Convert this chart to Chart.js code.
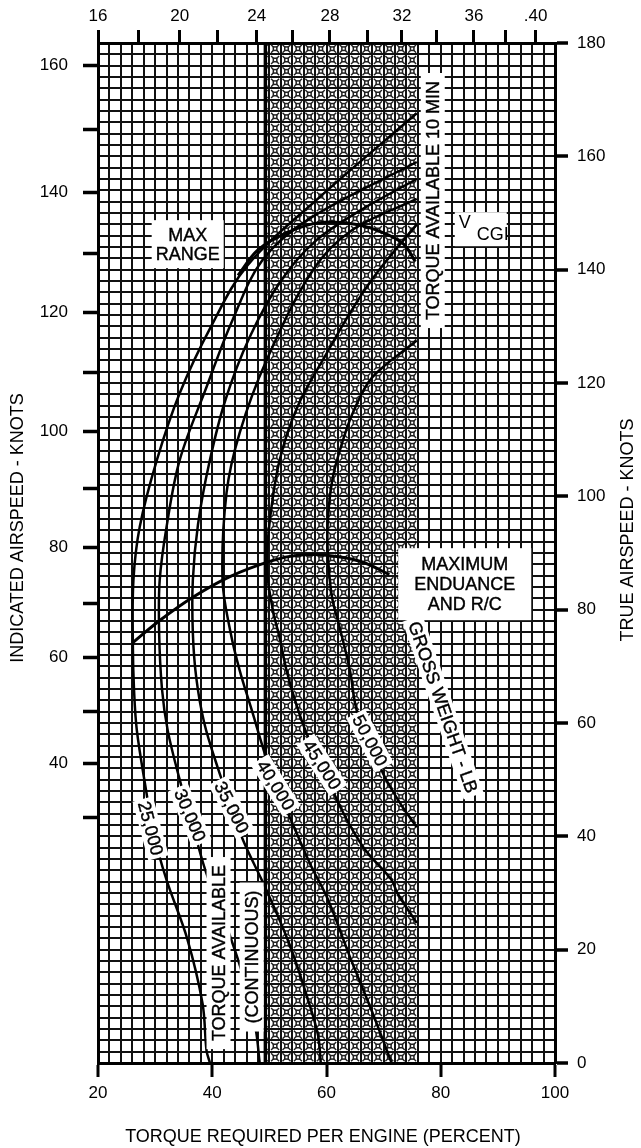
<!DOCTYPE html>
<html>
<head>
<meta charset="utf-8">
<script src="https://cdn.jsdelivr.net/npm/chart.js@4.4.1/dist/chart.umd.min.js"></script>
<style>
  html, body { margin: 0; padding: 0; background: #fff; }
  #wrap { width: 641px; height: 1148px; position: relative; }
</style>
</head>
<body>
<div id="wrap"><canvas id="chart"></canvas></div>
<script>
// ---- axis ticks ----
const bottomLabels = [20, 40, 60, 80, 100];
const rightLabels = [0, 20, 40, 60, 80, 100, 120, 140, 160, 180];
// indicated airspeed ticks (left) and where they sit on the true airspeed scale
const iasLabels = [30, 40, 50, 60, 70, 80, 90, 100, 110, 120, 130, 140, 150, 160];
const iasAtTas = [43.4, 52.9, 62.1, 71.6, 81.1, 91.0, 101.4, 111.5, 121.8, 132.4, 142.9, 153.6, 164.8, 176.1];
// top scale ticks and their torque position
const topLabels = [16, 18, 20, 22, 24, 26, 28, 30, 32, 34, 36, 38, 40];
const topAtTorque = [20.0, 27.1, 34.3, 41.0, 47.8, 54.1, 60.6, 67.1, 73.2, 79.3, 85.8, 91.4, 96.6];

// ---- gross weight curves (torque %, true airspeed kt) ----
const gw25Torque = [39.6, 39.0, 38.3, 35.6, 32.0, 29.6, 28.5, 26.8, 26.3, 26.1, 26.2, 27.3, 30.3, 34.3, 39.8, 46.2, 58.8, 75.8];
const gw25Tas    = [0, 2.2, 10.5, 22, 32.3, 41, 47.6, 58.7, 66, 74, 85.2, 94.6, 106.4, 118.2, 130, 140.8, 152.8, 167.6];
const gw30Torque = [48.3, 47.6, 45.5, 42.2, 38.8, 36.1, 34.3, 32.2, 31.2, 30.7, 30.8, 32.0, 34.3, 39.0, 43.5, 48.8, 57, 75.8];
const gw30Tas    = [0, 6, 15, 25, 34, 43.7, 50, 58.7, 66, 76, 85.2, 94.6, 106.4, 119.3, 131, 141.7, 149, 159];
const gw35Torque = [59.0, 58.5, 56.5, 53.5, 49.5, 45.4, 43.4, 41.0, 38.6, 37.2, 36.6, 36.6, 37.5, 39.5, 42.3, 46.5, 52, 58, 66, 75.8];
const gw35Tas    = [0, 5, 12, 21, 30.5, 39.3, 45.1, 52, 60, 68, 76, 85.2, 95, 106, 117, 128, 138, 145, 150.5, 156];
const gw40Torque = [71.4, 68.0, 64.0, 60.2, 57.2, 53.6, 51.1, 49.2, 47.0, 44.8, 43.2, 41.8, 42.5, 44.8, 49.5, 57.6, 64.5, 75.8];
const gw40Tas    = [0, 9, 19, 29, 35, 43.3, 49, 54.6, 62, 69.3, 76, 85.2, 100.6, 111.2, 124, 139.9, 147, 152.5];
const gw45Torque = [75.8, 72.4, 71.4, 66.5, 62.5, 59.2, 56.5, 54.5, 53.0, 51.8, 50.6, 49.6, 50.0, 51.8, 55, 60.0, 64.5, 68.8, 75.8];
const gw45Tas    = [24.7, 30, 32.3, 38, 45, 52.6, 58.2, 64, 69.3, 75, 80, 87, 95, 106.4, 116, 125.2, 133, 139.4, 148];
const gw50Torque = [75.8, 72.8, 69.9, 67.6, 65.3, 64.1, 62.3, 61.0, 60.3, 60.2, 61.0, 62.6, 64.6, 68, 75.8];
const gw50Tas    = [41.6, 46, 51.1, 56.9, 62.2, 69.3, 76.9, 82, 88.7, 95, 102.8, 109, 114.7, 121, 127.5];

const maxEndTorque = [26.1, 30.8, 36.6, 43, 50.6, 55, 60.0, 66, 71.0];
const maxEndTas    = [74.2, 78.1, 82.2, 85.8, 88.7, 89.6, 89.6, 88.5, 86.2];
const maxRangeTorque = [44.5, 48, 53, 58.8, 65, 70, 73.5, 75.5];
const maxRangeTas    = [139, 143.5, 146.5, 148.3, 148, 146.5, 144.5, 141.5];

// torque limits
const continuousTorque = 49.3;
const tenMinTorque = 75.8;

const FONT = '"Liberation Sans", Arial, Helvetica, sans-serif';

const toPoints = (tq, tas) => tq.map((t, i) => ({ x: t, y: tas[i] }));
const steps = (a, b, s) => { const out = []; for (let v = a; v <= b + 1e-9; v += s) out.push({ value: v }); return out; };

const lineSet = (tq, tas, w) => ({
    data: toPoints(tq, tas),
    showLine: true,
    borderColor: '#000',
    borderWidth: w,
    pointRadius: 0,
    tension: 0.35,
    xAxisID: 'x',
    yAxisID: 'y',
});

// notes drawn on white boxes: position in torque / true airspeed
const notes = [
    { lines: ['MAX', 'RANGE'], x: 35.7, y: 144.5, lh: 19, padX: 4, padY: 5 },
    { lines: ['MAXIMUM', 'ENDUANCE', 'AND R/C'], x: 84.2, y: 84.5, lh: 20, padX: 16, padY: 6 },
    { lines: ['TORQUE AVAILABLE 10 MIN'], x: 78.6, y: 152.2, rot: -90, lh: 20, padX: 8, padY: 2 },
    { lines: ['TORQUE AVAILABLE'], x: 41.1, y: 19.4, rot: -90, lh: 20, padX: 8, padY: 2 },
    { lines: ['(CONTINUOUS)'], x: 46.9, y: 18.7, rot: -90, lh: 20, padX: 8, padY: 2 },
    { lines: ['25,000'], x: 29.2, y: 41.4, rot: 75, lh: 19, padX: 3, padY: 1 },
    { lines: ['30,000'], x: 36.1, y: 43.7, rot: 67, lh: 19, padX: 3, padY: 1 },
    { lines: ['35,000'], x: 43.4, y: 45.1, rot: 63, lh: 19, padX: 3, padY: 1 },
    { lines: ['40,000'], x: 51.1, y: 49.0, rot: 58, lh: 19, padX: 3, padY: 1 },
    { lines: ['45,000'], x: 59.2, y: 52.6, rot: 57, lh: 19, padX: 3, padY: 1 },
    { lines: ['50,000'], x: 67.6, y: 56.9, rot: 62, lh: 19, padX: 3, padY: 1 },
    { lines: ['GROSS WEIGHT - LB'], x: 80.4, y: 62.8, rot: 71, lh: 19, padX: 4, padY: 1 },
];

// one cell of the shaded band, a small dark star
function glyph(ctx, cx, cy) {
    ctx.fillRect(cx - 2.5, cy - 2.5, 5, 5);
    ctx.beginPath();
    ctx.moveTo(cx - 4, cy - 4); ctx.lineTo(cx + 4, cy + 4);
    ctx.moveTo(cx + 4, cy - 4); ctx.lineTo(cx - 4, cy + 4);
    ctx.stroke();
    ctx.save();
    ctx.fillStyle = '#fff';
    ctx.fillRect(cx - 1, cy - 1, 2, 2);
    ctx.restore();
}

// shaded band between continuous and 10 min torque
const hatchPlugin = {
    id: 'hatch',
    beforeDatasetsDraw(chart) {
        const { ctx, chartArea: a, scales: { x, y } } = chart;
        const x0 = x.getPixelForValue(continuousTorque);
        const x1 = x.getPixelForValue(tenMinTorque);
        ctx.save();
        ctx.beginPath();
        ctx.rect(x0, a.top, x1 - x0, a.bottom - a.top);
        ctx.clip();
        ctx.strokeStyle = '#222';
        ctx.fillStyle = '#222';
        ctx.lineWidth = 1.4;
        for (let t = 48; t < 76; t += 2) {
            const cx = (x.getPixelForValue(t) + x.getPixelForValue(t + 2)) / 2;
            for (let v = 0; v < 180; v += 2) {
                const cy = (y.getPixelForValue(v) + y.getPixelForValue(v + 2)) / 2;
                glyph(ctx, cx, cy);
            }
        }
        ctx.restore();
        // continuous torque limit line
        ctx.save();
        ctx.strokeStyle = '#000';
        ctx.lineWidth = 3.5;
        ctx.beginPath();
        ctx.moveTo(x0, a.top);
        ctx.lineTo(x0, a.bottom);
        ctx.stroke();
        ctx.restore();
    }
};

function boxText(ctx, n, px, py) {
    ctx.save();
    ctx.translate(px, py);
    ctx.rotate((n.rot || 0) * Math.PI / 180);
    ctx.font = '18px ' + FONT;
    const w = Math.max(...n.lines.map(l => ctx.measureText(l).width));
    const h = n.lines.length * n.lh;
    ctx.fillStyle = '#fff';
    ctx.fillRect(-w / 2 - n.padX, -h / 2 - n.padY, w + 2 * n.padX, h + 2 * n.padY);
    ctx.fillStyle = '#000';
    ctx.strokeStyle = '#000';
    ctx.lineWidth = 0.4;
    ctx.textAlign = 'center';
    ctx.textBaseline = 'middle';
    n.lines.forEach((l, i) => {
        const ty = -h / 2 + n.lh * (i + 0.5) + 1;
        ctx.fillText(l, 0, ty);
        ctx.strokeText(l, 0, ty);
    });
    ctx.restore();
}

const notesPlugin = {
    id: 'notes',
    afterDatasetsDraw(chart) {
        const { ctx, scales: { x, y } } = chart;
        notes.forEach(n => boxText(ctx, n, x.getPixelForValue(n.x), y.getPixelForValue(n.y)));

        // V sub CGI
        const vx = x.getPixelForValue(84.2), vy = y.getPixelForValue(148.2);
        ctx.save();
        ctx.fillStyle = '#fff';
        ctx.fillRect(vx - 10, vy - 11, 52, 34);
        ctx.fillStyle = '#000';
        ctx.font = '18px ' + FONT;
        ctx.textAlign = 'center';
        ctx.textBaseline = 'middle';
        ctx.fillText('V', vx, vy);
        ctx.fillText('CGI', vx + 28, vy + 12);
        ctx.restore();
    },
    afterDraw(chart) {
        const { ctx } = chart;
        ctx.save();
        ctx.fillStyle = '#000';
        ctx.font = '18px ' + FONT;
        ctx.textAlign = 'center';
        ctx.textBaseline = 'middle';
        ctx.fillText('TORQUE REQUIRED PER ENGINE (PERCENT)', 323, 1137);
        ctx.translate(18, 528);
        ctx.rotate(-Math.PI / 2);
        ctx.fillText('INDICATED AIRSPEED - KNOTS', 0, 0);
        ctx.restore();
        ctx.save();
        ctx.fillStyle = '#000';
        ctx.font = '18px ' + FONT;
        ctx.textAlign = 'center';
        ctx.textBaseline = 'middle';
        ctx.translate(628, 530);
        ctx.rotate(-Math.PI / 2);
        ctx.fillText('TRUE AIRSPEED - KNOTS', 0, 0);
        ctx.restore();
    }
};

const markColor = list => c => (c.tick && list.includes(c.tick.value)) ? '#000' : 'rgba(0,0,0,0)';
const tickFont = { family: FONT, size: 17 };

new Chart(document.getElementById('chart'), {
    type: 'scatter',
    data: {
        datasets: [
            lineSet(gw25Torque, gw25Tas, 2.5),
            lineSet(gw30Torque, gw30Tas, 2.5),
            lineSet(gw35Torque, gw35Tas, 2.5),
            lineSet(gw40Torque, gw40Tas, 2.5),
            lineSet(gw45Torque, gw45Tas, 2.5),
            lineSet(gw50Torque, gw50Tas, 2.5),
            lineSet(maxEndTorque, maxEndTas, 3),
            lineSet(maxRangeTorque, maxRangeTas, 3),
        ]
    },
    options: {
        responsive: true,
        maintainAspectRatio: false,
        animation: false,
        layout: { padding: 0 },
        plugins: { legend: { display: false }, tooltip: { enabled: false } },
        scales: {
            x: {
                type: 'linear', position: 'bottom', min: 20, max: 100,
                afterBuildTicks: s => { s.ticks = steps(20, 100, 2); },
                afterFit: s => { s.height = 85; },
                grid: { color: '#111', lineWidth: 2, tickLength: 14, tickWidth: 3, tickColor: markColor(bottomLabels) },
                border: { color: '#000', width: 3 },
                ticks: {
                    autoSkip: false, maxRotation: 0, padding: 6, color: '#000', font: tickFont,
                    callback: v => bottomLabels.includes(v) ? String(v) : ''
                }
            },
            x2: {
                type: 'linear', position: 'top', min: 20, max: 100,
                afterBuildTicks: s => { s.ticks = topAtTorque.map(v => ({ value: v })); },
                afterFit: s => { s.height = 43; },
                grid: { drawOnChartArea: false, tickLength: 13, tickWidth: 3, tickColor: '#000' },
                border: { color: '#000', width: 3 },
                ticks: {
                    autoSkip: false, maxRotation: 0, padding: 3, color: '#000', font: tickFont,
                    callback: (v, i) => topLabels[i] % 4 === 0 ? (topLabels[i] === 40 ? '.40' : String(topLabels[i])) : ''
                }
            },
            y: {
                type: 'linear', position: 'right', min: 0, max: 180,
                afterBuildTicks: s => { s.ticks = steps(0, 180, 2); },
                afterFit: s => { s.width = 86; },
                grid: { color: '#111', lineWidth: 2, tickLength: 13, tickWidth: 3.5, tickColor: markColor(rightLabels) },
                border: { color: '#000', width: 3 },
                ticks: {
                    autoSkip: false, padding: 9, color: '#000', font: tickFont,
                    callback: v => rightLabels.includes(v) ? String(v) : ''
                }
            },
            y2: {
                type: 'linear', position: 'left', min: 0, max: 180,
                afterBuildTicks: s => { s.ticks = iasAtTas.map(v => ({ value: v })); },
                afterFit: s => { s.width = 98; },
                grid: { drawOnChartArea: false, tickLength: 15, tickWidth: 3.5, tickColor: '#000' },
                border: { color: '#000', width: 3 },
                ticks: {
                    autoSkip: false, padding: 15, color: '#000', font: tickFont,
                    callback: (v, i) => iasLabels[i] % 20 === 0 ? String(iasLabels[i]) : ''
                }
            }
        }
    },
    plugins: [hatchPlugin, notesPlugin]
});
</script>
</body>
</html>
